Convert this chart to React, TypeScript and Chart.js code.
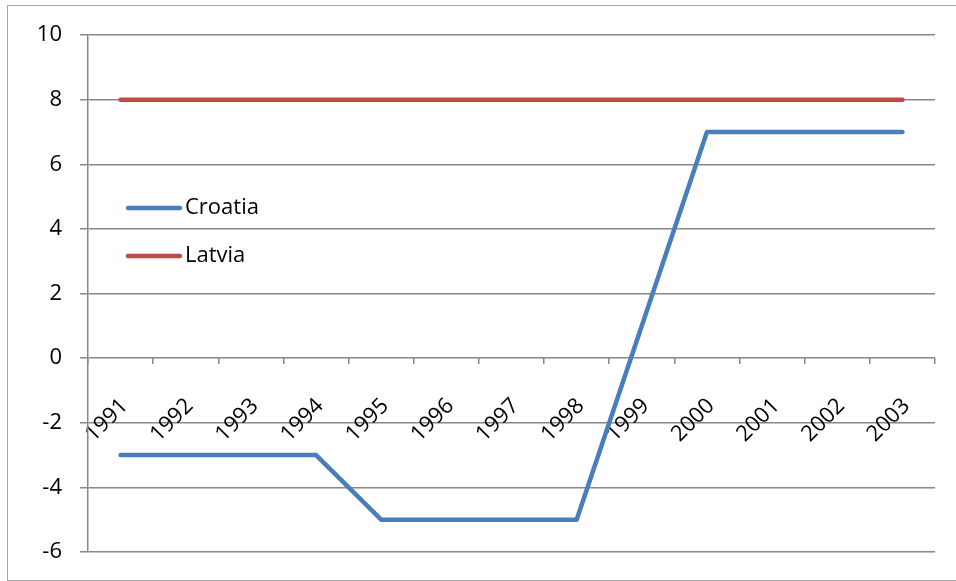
import React, { useEffect, useRef } from "react";
import { Chart, registerables } from "chart.js";

Chart.register(...registerables);

const years = ["1991", "1992", "1993", "1994", "1995", "1996", "1997", "1998", "1999", "2000", "2001", "2002", "2003"];
const croatia = [-3, -3, -3, -3, -5, -5, -5, -5, 1, 7, 7, 7, 7];
const latvia = [8, 8, 8, 8, 8, 8, 8, 8, 8, 8, 8, 8, 8];
const seriesNames = ["Croatia", "Latvia"];
const seriesColors = ["#4A7EBB", "#BE4B48"];
const yMin = -6;
const yMax = 10;
const yStep = 2;

const FONT = "'Open Sans', sans-serif";
const GRID = "#878787";

const frameAndLegend = {
  id: "frameAndLegend",
  beforeDraw(chart: any) {
    const ctx = chart.ctx;
    ctx.save();
    ctx.fillStyle = "#ffffff";
    ctx.fillRect(0, 0, chart.width, chart.height);
    ctx.strokeStyle = "#a6a6a6";
    ctx.lineWidth = 1;
    ctx.strokeRect(7.5, 5.5, chart.width + 5, chart.height - 6);
    ctx.restore();
  },
  afterDraw(chart: any) {
    const ctx = chart.ctx;
    ctx.save();
    const ys = [208, 256];
    chart.data.datasets.forEach((ds: any, i: number) => {
      const y = ys[i];
      ctx.strokeStyle = ds.borderColor;
      ctx.lineWidth = 4.5;
      ctx.lineCap = "round";
      ctx.beginPath();
      ctx.moveTo(128, y);
      ctx.lineTo(180, y);
      ctx.stroke();
      ctx.fillStyle = "#000";
      ctx.font = `22px ${FONT}`;
      ctx.textBaseline = "middle";
      ctx.textAlign = "left";
      ctx.fillText(ds.label, 185, y);
    });
    ctx.restore();
  },
};

export default function App() {
  const ref = useRef<HTMLCanvasElement | null>(null);
  useEffect(() => {
    if (!ref.current) return;
    const chart = new Chart(ref.current, {
      type: "line",
      data: {
        labels: years,
        datasets: [
          { label: seriesNames[0], data: croatia, borderColor: seriesColors[0], backgroundColor: seriesColors[0] },
          { label: seriesNames[1], data: latvia, borderColor: seriesColors[1], backgroundColor: seriesColors[1] },
        ].map((d) => ({
          ...d,
          borderWidth: 4.5,
          pointRadius: 0,
          pointHoverRadius: 0,
          tension: 0,
          borderCapStyle: "round" as const,
          borderJoinStyle: "round" as const,
        })),
      },
      options: {
        responsive: false,
        animation: false,
        events: [],
        layout: { padding: { left: 0, top: 35, right: 21, bottom: 29 } },
        plugins: { legend: { display: false }, tooltip: { enabled: false } },
        scales: {
          x: {
            type: "category",
            position: { y: 0 } as any,
            offset: true,
            afterFit: (s: any) => {
              s.paddingLeft = 0;
              s.paddingRight = 0;
              s.paddingTop = 0;
              s.paddingBottom = 0;
            },
            border: { display: false },
            grid: { offset: true, drawOnChartArea: false, drawTicks: true, tickLength: 6, color: GRID, lineWidth: 1.5 },
            ticks: {
              autoSkip: false,
              minRotation: 45,
              maxRotation: 45,
              padding: 29,
              labelOffset: 4,
              color: "#000",
              font: { family: FONT, size: 22 },
            },
          },
          y: {
            min: yMin,
            max: yMax,
            afterFit: (scale: any) => {
              scale.width = 88;
              scale.paddingTop = 0;
              scale.paddingBottom = 0;
            },
            border: { display: true, color: GRID, width: 1.5 },
            grid: { color: GRID, lineWidth: 1.5, tickLength: 8, drawTicks: true },
            ticks: {
              stepSize: yStep,
              padding: 18,
              color: "#000",
              font: { family: FONT, size: 22 },
            },
          },
        },
      },
      plugins: [frameAndLegend],
    });
    return () => chart.destroy();
  }, []);
  return (
    <div style={{ position: "fixed", left: 0, top: 0, width: 956, height: 581, background: "#fff" }}>
      <canvas ref={ref} width={956} height={581} style={{ display: "block" }} />
    </div>
  );
}
